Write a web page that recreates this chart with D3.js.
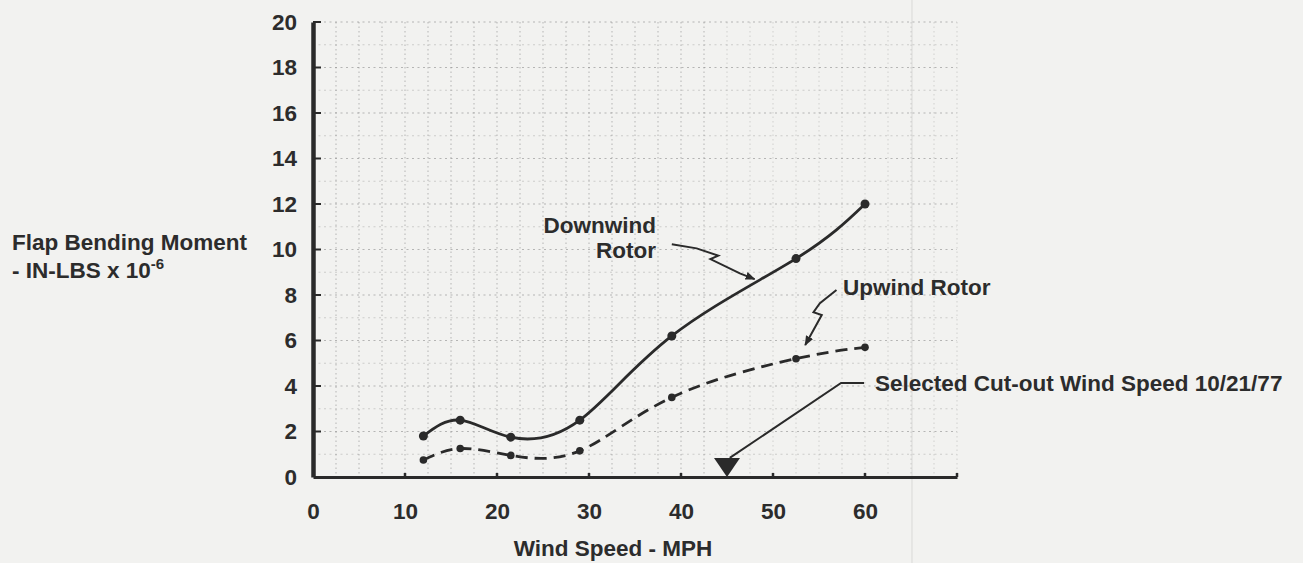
<!DOCTYPE html>
<html>
<head>
<meta charset="utf-8">
<script src="https://cdn.jsdelivr.net/npm/d3@7"></script>
<style>
  html, body { margin: 0; padding: 0; background: #f2f2f0; }
  svg { display: block; }
  text { font-family: "Liberation Sans", Arial, sans-serif; font-weight: bold; fill: #2c2c2c; }
</style>
</head>
<body>
<svg id="chart" width="1303" height="563"></svg>
<script>
// Wind speed (mph) at each measurement
const windSpeed = [12, 16, 21.5, 29, 39, 52.5, 60];
// Flap bending moment, in-lbs x 10^-6
const downwindRotor = [1.8, 2.5, 1.75, 2.5, 6.2, 9.6, 12.0];
const upwindRotor   = [0.75, 1.25, 0.95, 1.15, 3.5, 5.2, 5.7];
// Axis ticks
const xTickValues = [0, 10, 20, 30, 40, 50, 60];
const yTickValues = [0, 2, 4, 6, 8, 10, 12, 14, 16, 18, 20];
// Selected cut-out wind speed (mph)
const cutoutSpeed = 45;
// Leader lines for the callouts, in data units [mph, moment]
const downwindLeader = [[39.0, 10.23], [41.7, 10.05], [44.05, 9.73], [43.2, 9.58], [46.4, 8.95], [48.0, 8.7]];
const upwindLeader   = [[56.9, 8.22], [55.1, 7.64], [54.4, 7.24], [55.3, 7.12], [53.5, 5.8]];
const cutoutLeader   = [[59.9, 4.13], [57.4, 4.13], [45.3, 0.84]];

const svg = d3.select("#chart");
const x = d3.scaleLinear().domain([0, 70]).range([313, 957]);
const y = d3.scaleLinear().domain([0, 20]).range([477, 22]);
const ink = "#2a2a2a";

// faint scanner streak
svg.append("line").attr("x1", 912).attr("x2", 912).attr("y1", 0).attr("y2", 563)
  .attr("stroke", "#d9d9d7").attr("stroke-width", 1);

// graph-paper grid
const grid = svg.append("g");
grid.selectAll("line.v").data(d3.range(1, 29).map(i => i * 2.5)).join("line")
  .attr("x1", d => x(d)).attr("x2", d => x(d)).attr("y1", y(20)).attr("y2", y(0))
  .attr("stroke", "#7a7a7a").attr("stroke-width", 1)
  .attr("stroke-dasharray", "1.5,3")
  .attr("opacity", d => d <= 42.5 ? 0.5 : 0.28);
grid.selectAll("line.h").data(d3.range(1, 21)).join("line")
  .attr("x1", x(0)).attr("x2", x(70)).attr("y1", d => y(d)).attr("y2", d => y(d))
  .attr("stroke", "#7a7a7a").attr("stroke-width", 1)
  .attr("stroke-dasharray", "2,3.5")
  .attr("opacity", d => d % 2 === 0 ? 0.5 : 0.3);

// axes
const xAxis = d3.axisBottom(x).tickValues(xTickValues).tickSize(0).tickPadding(26);
const gx = svg.append("g").attr("transform", `translate(0,${y(0)})`).call(xAxis);
gx.select(".domain").attr("stroke", ink).attr("stroke-width", 3);
gx.selectAll("text").attr("font-size", 22.5).attr("fill", "#2c2c2c")
  .attr("font-family", "Liberation Sans, Arial, sans-serif").attr("font-weight", "bold");
// small inner tick marks along the x axis
svg.append("g").selectAll("line").data([10, 20, 30, 40, 50, 60, 70]).join("line")
  .attr("x1", d => x(d)).attr("x2", d => x(d)).attr("y1", y(0)).attr("y2", y(0) - 4)
  .attr("stroke", ink).attr("stroke-width", 2.5);

const yAxis = d3.axisLeft(y).tickValues(yTickValues).tickSize(0).tickPadding(16);
const gy = svg.append("g").attr("transform", `translate(${x(0)},0)`).call(yAxis);
gy.select(".domain").attr("stroke", ink).attr("stroke-width", 4.5);
gy.selectAll("text").attr("font-size", 22.5).attr("fill", "#2c2c2c")
  .attr("font-family", "Liberation Sans, Arial, sans-serif").attr("font-weight", "bold");
// inner tick marks along the y axis
svg.append("g").selectAll("line").data(yTickValues.slice(1)).join("line")
  .attr("x1", x(0)).attr("x2", x(0) + 8).attr("y1", d => y(d)).attr("y2", d => y(d))
  .attr("stroke", ink).attr("stroke-width", 2);

// axis titles
svg.append("text").attr("x", (x(0) + x(70)) / 2 - 22).attr("y", 556)
  .attr("text-anchor", "middle").attr("font-size", 22.5).text("Wind Speed - MPH");
const yTitle = svg.append("g");
yTitle.append("text").attr("x", 12).attr("y", 250).attr("font-size", 22.5).text("Flap Bending Moment");
const t2 = yTitle.append("text").attr("x", 12).attr("y", 278).attr("font-size", 22.5);
t2.append("tspan").text("- IN-LBS x 10");
t2.append("tspan").attr("font-size", 15).attr("dy", -9).text("-6");

// curves
const line = d3.line().x(d => x(d[0])).y(d => y(d[1])).curve(d3.curveNatural);
const downPts = windSpeed.map((w, i) => [w, downwindRotor[i]]);
const upPts = windSpeed.map((w, i) => [w, upwindRotor[i]]);

svg.append("path").datum(downPts).attr("d", line)
  .attr("fill", "none").attr("stroke", ink).attr("stroke-width", 2.8);
svg.append("path").datum(upPts).attr("d", line)
  .attr("fill", "none").attr("stroke", ink).attr("stroke-width", 2.8)
  .attr("stroke-dasharray", "12,7");

svg.append("g").selectAll("circle").data(downPts).join("circle")
  .attr("cx", d => x(d[0])).attr("cy", d => y(d[1])).attr("r", 4.5).attr("fill", ink);
svg.append("g").selectAll("circle").data(upPts).join("circle")
  .attr("cx", d => x(d[0])).attr("cy", d => y(d[1])).attr("r", 3.8).attr("fill", ink);

// callouts
const leader = d3.line().x(d => x(d[0])).y(d => y(d[1]));
svg.append("defs").append("marker").attr("id", "arrow")
  .attr("viewBox", "0 0 10 10").attr("refX", 9).attr("refY", 5)
  .attr("markerWidth", 5).attr("markerHeight", 5).attr("orient", "auto")
  .append("path").attr("d", "M0,1 L10,5 L0,9 Z").attr("fill", ink);

svg.append("path").datum(downwindLeader).attr("d", leader)
  .attr("fill", "none").attr("stroke", ink).attr("stroke-width", 2).attr("marker-end", "url(#arrow)");
svg.append("path").datum(upwindLeader).attr("d", leader)
  .attr("fill", "none").attr("stroke", ink).attr("stroke-width", 2).attr("marker-end", "url(#arrow)");
svg.append("path").datum(cutoutLeader).attr("d", leader)
  .attr("fill", "none").attr("stroke", ink).attr("stroke-width", 2);

// cut-out marker on the axis
const tipX = x(cutoutSpeed), tipY = y(0);
svg.append("path")
  .attr("d", `M${tipX - 13},${tipY - 19} L${tipX + 13},${tipY - 19} L${tipX},${tipY} Z`)
  .attr("fill", ink);

svg.append("text").attr("x", 656).attr("y", 233).attr("text-anchor", "end")
  .attr("font-size", 22.5).text("Downwind");
svg.append("text").attr("x", 656).attr("y", 258).attr("text-anchor", "end")
  .attr("font-size", 22.5).text("Rotor");
svg.append("text").attr("x", 843).attr("y", 295).attr("font-size", 22.5).text("Upwind Rotor");
svg.append("text").attr("x", 875).attr("y", 391).attr("font-size", 22.5)
  .text("Selected Cut-out Wind Speed 10/21/77");
</script>
</body>
</html>
